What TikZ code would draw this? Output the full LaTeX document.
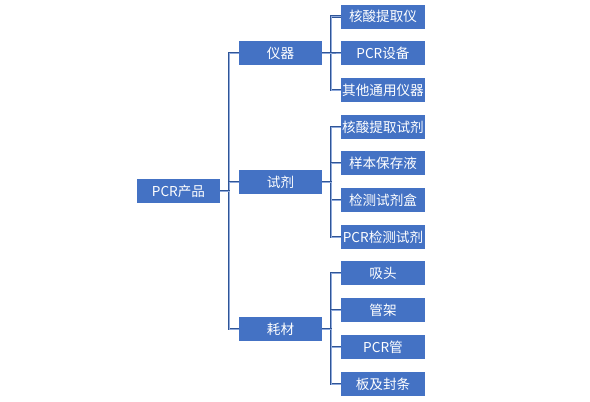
\documentclass[tikz,border=0pt]{standalone}
\usepackage{fontspec}
\setmainfont{Noto Sans CJK SC}
\usetikzlibrary{positioning}
\definecolor{boxblue}{RGB}{68,114,196}
\definecolor{linedark}{RGB}{47,85,151}
\definecolor{linelight}{RGB}{143,170,220}

\begin{document}
\begin{tikzpicture}[x=1pt,y=-1pt,
  box/.style={fill=boxblue,text=white,minimum width=83pt,minimum height=24pt,inner sep=0pt,font=\fontsize{13.6}{15}\selectfont},
  leaf/.style={box,minimum width=84pt},
  conn/.style={draw=linedark,double=linelight,double distance=0.8pt,line width=0.7pt}]
  \useasboundingbox (0,0) rectangle (590,402);
  % root and first level
  \node[box] (root) at (178.5,191) {PCR产品};
  \node[box] (yiqi) at (280.5,53) {仪器};
  \node[box] (shiji) at (280.5,182) {试剂};
  \node[box] (haocai) at (280.5,329) {耗材};
  % second level
  \node[leaf] (hstq) at (383,16.5) {核酸提取仪};
  \node[leaf] (pcrsb) at (383,53) {PCR设备};
  \node[leaf] (qtyq) at (383,90) {其他通用仪器};
  \node[leaf] (hstqsj) at (383,127) {核酸提取试剂};
  \node[leaf] (ybbcy) at (383,163) {样本保存液};
  \node[leaf] (jcsjh) at (383,200) {检测试剂盒};
  \node[leaf] (pcrjc) at (383,237) {PCR检测试剂};
  \node[leaf] (xitou) at (383,273) {吸头};
  \node[leaf] (guanjia) at (383,310) {管架};
  \node[leaf] (pcrg) at (383,347) {PCR管};
  \node[leaf] (banfeng) at (383,384) {板及封条};
  % brackets
  \foreach \c in {yiqi,shiji,haocai}
    \draw[conn] (root.east) -- ++(9,0) |- (\c.west);
  \foreach \c in {hstq,pcrsb,qtyq}
    \draw[conn] (yiqi.east) -- ++(9,0) |- (\c.west);
  \foreach \c in {hstqsj,ybbcy,jcsjh,pcrjc}
    \draw[conn] (shiji.east) -- ++(9,0) |- (\c.west);
  \foreach \c in {xitou,guanjia,pcrg,banfeng}
    \draw[conn] (haocai.east) -- ++(9,0) |- (\c.west);
\end{tikzpicture}
\end{document}
